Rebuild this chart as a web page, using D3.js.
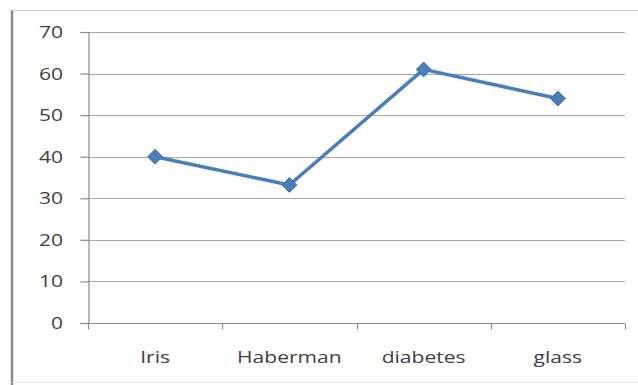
<!DOCTYPE html>
<html>
<head>
<meta charset="utf-8">
<script src="https://cdn.jsdelivr.net/npm/d3@7"></script>
<style>
  html, body { margin: 0; padding: 0; background: #fff; }
  svg { display: block; }
</style>
</head>
<body>
<svg id="chart" width="638" height="385"></svg>
<script>
// Dataset names and their scores
const categories = ["Iris", "Haberman", "diabetes", "glass"];
const values = [40, 33.2, 61, 54];
const yTicks = [0, 10, 20, 30, 40, 50, 60, 70];

const svg = d3.select("#chart");
const W = 638, H = 385;
const margin = { left: 88, right: 13, top: 32, bottom: 62 };

// Labels use a slightly widened face
const font = "'Open Sans', sans-serif";
const fontSize = "17px";
const stretch = 1.24;

// Outer chart frame
svg.append("line").attr("x1", 12).attr("x2", 12).attr("y1", 10).attr("y2", H)
  .attr("stroke", "#8c8c8c").attr("stroke-width", 2.5);
svg.append("line").attr("x1", 12).attr("x2", W).attr("y1", 10.5).attr("y2", 10.5)
  .attr("stroke", "#c8c8c8").attr("stroke-width", 1.2);
svg.append("line").attr("x1", 12).attr("x2", W).attr("y1", 382.5).attr("y2", 382.5)
  .attr("stroke", "#e6e6e6").attr("stroke-width", 1);

const x = d3.scaleBand().domain(categories)
  .range([margin.left, W - margin.right]).padding(0);
const y = d3.scaleLinear().domain([0, 70])
  .range([H - margin.bottom, margin.top]);

// Horizontal gridlines
svg.append("g").selectAll("line").data(yTicks.filter(d => d > 0)).join("line")
  .attr("x1", margin.left).attr("x2", W - margin.right)
  .attr("y1", d => Math.round(y(d)) + 0.5).attr("y2", d => Math.round(y(d)) + 0.5)
  .attr("stroke", "#a6a6a6").attr("stroke-width", 1.2);

// Y axis
const yAxis = svg.append("g")
  .attr("transform", `translate(${margin.left + 0.5},0)`)
  .call(d3.axisLeft(y).tickValues(yTicks).tickSize(8).tickPadding(10));
yAxis.select(".domain").attr("stroke", "#8c8c8c").attr("stroke-width", 1.2);
yAxis.selectAll(".tick line").attr("stroke", "#8c8c8c").attr("stroke-width", 1.2);
yAxis.selectAll("text")
  .attr("x", -25.5 / stretch)
  .attr("transform", `scale(${stretch},1)`)
  .attr("fill", "#404040")
  .style("font-family", font).style("font-size", fontSize);

// X axis with ticks on band boundaries
const xAxisY = Math.round(y(0)) + 0.5;
svg.append("line").attr("x1", margin.left - 8).attr("x2", W - margin.right)
  .attr("y1", xAxisY).attr("y2", xAxisY)
  .attr("stroke", "#8c8c8c").attr("stroke-width", 1.2);
const bounds = categories.map(c => x(c)).concat([x(categories[categories.length - 1]) + x.bandwidth()]);
svg.append("g").selectAll("line").data(bounds).join("line")
  .attr("x1", d => Math.round(d) + 0.5).attr("x2", d => Math.round(d) + 0.5)
  .attr("y1", xAxisY).attr("y2", xAxisY + 6)
  .attr("stroke", "#8c8c8c").attr("stroke-width", 1.2);
svg.append("g").selectAll("text").data(categories).join("text")
  .attr("transform", d => `translate(${x(d) + x.bandwidth() / 2},${xAxisY + 39}) scale(${stretch},1)`)
  .attr("text-anchor", "middle")
  .attr("fill", "#404040")
  .style("font-family", font).style("font-size", fontSize)
  .text(d => d);

// Series line
const pts = categories.map((c, i) => [x(c) + x.bandwidth() / 2, y(values[i])]);
svg.append("path").datum(pts)
  .attr("d", d3.line())
  .attr("fill", "none")
  .attr("stroke", "#4a7ebb")
  .attr("stroke-width", 3.5)
  .attr("stroke-linejoin", "round");

// Diamond markers
svg.append("g").selectAll("path").data(pts).join("path")
  .attr("transform", d => `translate(${d[0]},${d[1]})`)
  .attr("d", d3.symbol(d3.symbolDiamond2, 140))
  .attr("fill", "#4a7ebb")
  .attr("stroke", "#3d6fae")
  .attr("stroke-width", 1);
</script>
</body>
</html>
